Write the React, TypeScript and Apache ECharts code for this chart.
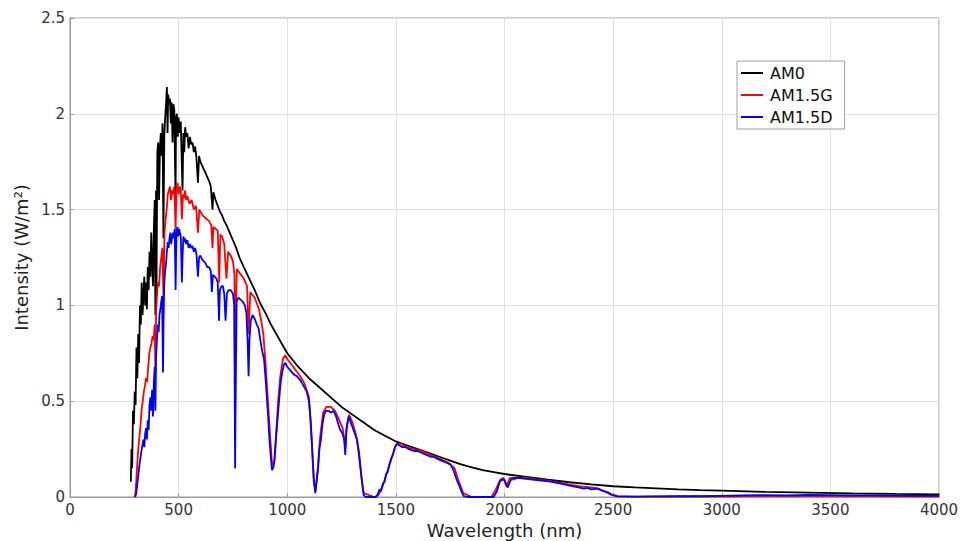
import React, { useEffect, useRef } from "react";
import * as echarts from "echarts";

// Solar spectral irradiance, [wavelength (nm), intensity (W/m^2 per nm)]
const am0: [number, number][] = [
  [280, 0.08], [283, 0.25], [286, 0.15], [290, 0.45], [294, 0.38], [298, 0.55], [302, 0.48], [306, 0.78],
  [310, 0.62], [314, 0.85], [318, 0.7], [322, 1.0], [326, 0.9], [330, 1.12], [334, 0.95], [338, 1.05],
  [342, 1.15], [346, 1.0], [350, 1.12], [354, 0.98], [358, 1.2], [362, 1.08], [366, 1.28], [370, 1.15],
  [374, 1.38], [378, 1.22], [382, 1.1], [386, 1.4], [390, 1.55], [393, 0.95], [396, 1.6], [398, 1.05],
  [402, 1.8], [406, 1.85], [410, 1.55], [414, 1.82], [418, 1.9], [422, 1.78], [426, 1.95], [430, 1.35],
  [434, 1.88], [438, 1.98], [442, 2.05], [446, 2.14], [449, 1.9], [452, 2.1], [456, 2.05], [460, 2.08],
  [464, 1.95], [468, 2.06], [472, 1.85], [476, 2.05], [480, 2.02], [484, 1.7], [486, 1.55], [488, 1.98],
  [492, 2.0], [496, 1.88], [500, 1.98], [505, 1.9], [510, 1.96], [515, 1.72], [518, 1.6], [522, 1.9],
  [526, 1.8], [530, 1.93], [535, 1.88], [540, 1.9], [546, 1.82], [552, 1.88], [558, 1.84], [564, 1.85],
  [570, 1.8], [576, 1.83], [582, 1.77], [589, 1.64], [594, 1.78], [600, 1.75], [608, 1.73], [616, 1.71],
  [624, 1.69], [632, 1.67], [640, 1.65], [648, 1.62], [656, 1.5], [660, 1.59], [670, 1.55], [680, 1.52],
  [690, 1.49], [700, 1.47], [710, 1.44], [720, 1.42], [735, 1.38], [750, 1.34], [765, 1.3], [780, 1.25],
  [800, 1.2], [825, 1.14], [850, 1.08], [876, 1.01], [900, 0.96], [925, 0.9], [950, 0.85], [975, 0.8],
  [1000, 0.75], [1050, 0.68], [1100, 0.62], [1150, 0.57], [1200, 0.52], [1250, 0.47], [1300, 0.43],
  [1350, 0.39], [1400, 0.35], [1450, 0.32], [1500, 0.29], [1550, 0.27], [1600, 0.25], [1650, 0.23],
  [1700, 0.21], [1750, 0.19], [1800, 0.17], [1850, 0.155], [1900, 0.14], [1950, 0.13], [2000, 0.12],
  [2100, 0.105], [2200, 0.09], [2300, 0.077], [2400, 0.066], [2500, 0.056], [2600, 0.05], [2700, 0.045],
  [2800, 0.04], [2900, 0.036], [3000, 0.033], [3200, 0.027], [3400, 0.023], [3600, 0.019], [3800, 0.016],
  [4000, 0.014],
];

const am15g: [number, number][] = [
  [295, 0], [300, 0.01], [305, 0.08], [310, 0.18], [315, 0.26], [320, 0.32], [325, 0.38], [330, 0.46],
  [335, 0.5], [340, 0.55], [345, 0.58], [350, 0.62], [355, 0.6], [360, 0.68], [365, 0.75], [370, 0.78],
  [375, 0.8], [380, 0.84], [385, 0.82], [390, 0.9], [393, 0.65], [396, 0.95], [400, 1.05], [405, 1.12],
  [410, 1.1], [415, 1.2], [420, 1.25], [425, 1.3], [430, 1.05], [435, 1.38], [440, 1.45], [445, 1.5],
  [450, 1.58], [455, 1.6], [460, 1.62], [465, 1.55], [470, 1.6], [475, 1.58], [480, 1.62], [486, 1.4],
  [490, 1.6], [495, 1.64], [500, 1.58], [505, 1.62], [510, 1.6], [515, 1.45], [520, 1.58], [525, 1.56],
  [530, 1.6], [535, 1.55], [540, 1.57], [550, 1.53], [560, 1.55], [570, 1.5], [580, 1.52], [589, 1.38],
  [595, 1.5], [600, 1.49], [610, 1.47], [620, 1.46], [630, 1.45], [640, 1.44], [650, 1.42], [656, 1.3],
  [660, 1.41], [670, 1.4], [680, 1.39], [687, 1.12], [692, 1.37], [700, 1.36], [710, 1.32], [720, 1.14],
  [728, 1.28], [740, 1.26], [750, 1.23], [757, 1.16], [760, 0.4], [763, 0.95], [768, 1.19], [780, 1.17],
  [800, 1.14], [815, 1.1], [822, 0.85], [830, 1.07], [850, 1.04], [870, 0.98], [880, 0.92], [890, 0.85],
  [900, 0.7], [910, 0.52], [920, 0.34], [930, 0.17], [940, 0.18], [948, 0.32], [958, 0.5], [968, 0.63],
  [980, 0.72], [990, 0.74], [1000, 0.72], [1020, 0.69], [1040, 0.66], [1060, 0.63], [1080, 0.59],
  [1100, 0.52], [1112, 0.3], [1122, 0.08], [1130, 0.03], [1140, 0.14], [1150, 0.3], [1165, 0.44],
  [1180, 0.47], [1200, 0.47], [1220, 0.45], [1240, 0.4], [1255, 0.36], [1268, 0.26], [1275, 0.38],
  [1285, 0.43], [1300, 0.39], [1315, 0.33], [1330, 0.24], [1342, 0.1], [1352, 0.02], [1400, 0],
  [1420, 0.01], [1440, 0.06], [1460, 0.13], [1480, 0.2], [1500, 0.27], [1520, 0.28], [1550, 0.26],
  [1580, 0.25], [1620, 0.24], [1660, 0.22], [1700, 0.2], [1740, 0.18], [1770, 0.15], [1790, 0.08],
  [1810, 0.02], [1850, 0], [1940, 0], [1960, 0.04], [1980, 0.09], [1995, 0.1], [2010, 0.06], [2025, 0.1],
  [2040, 0.09], [2060, 0.1], [2100, 0.1], [2150, 0.09], [2200, 0.085], [2250, 0.075], [2300, 0.065],
  [2350, 0.055], [2400, 0.05], [2430, 0.045], [2460, 0.03], [2490, 0.012], [2520, 0.004], [2600, 0.002],
  [3000, 0.004], [3500, 0.005], [4000, 0.004],
];

const am15d: [number, number][] = [
  [300, 0], [305, 0.02], [310, 0.07], [315, 0.12], [320, 0.17], [325, 0.21], [330, 0.25], [335, 0.28],
  [338, 0.3], [342, 0.26], [346, 0.33], [350, 0.36], [354, 0.3], [358, 0.4], [362, 0.35], [366, 0.48],
  [370, 0.52], [374, 0.45], [378, 0.56], [382, 0.42], [386, 0.6], [390, 0.68], [393, 0.45], [396, 0.72],
  [400, 0.82], [404, 0.9], [408, 0.86], [412, 0.95], [416, 0.98], [420, 1.02], [424, 1.05], [428, 0.65],
  [431, 0.95], [434, 1.12], [438, 1.18], [442, 1.22], [446, 1.28], [450, 1.33], [454, 1.3], [458, 1.35],
  [462, 1.38], [466, 1.32], [470, 1.36], [474, 1.38], [478, 1.35], [482, 1.4], [486, 1.08], [490, 1.38],
  [494, 1.41], [498, 1.36], [502, 1.4], [506, 1.38], [510, 1.36], [515, 1.12], [518, 1.25], [522, 1.36],
  [526, 1.33], [530, 1.35], [535, 1.32], [540, 1.34], [546, 1.3], [552, 1.32], [558, 1.3], [564, 1.31],
  [570, 1.28], [576, 1.3], [582, 1.27], [589, 1.15], [594, 1.25], [600, 1.26], [608, 1.24], [616, 1.23],
  [624, 1.22], [632, 1.2], [640, 1.2], [648, 1.18], [653, 1.07], [658, 1.16], [666, 1.15], [674, 1.14],
  [680, 1.12], [686, 0.92], [690, 1.08], [697, 1.1], [704, 1.1], [710, 1.06], [716, 0.92], [722, 1.06],
  [730, 1.08], [740, 1.08], [750, 1.06], [756, 1.0], [760, 0.15], [763, 0.6], [767, 1.02], [775, 1.04],
  [785, 1.03], [795, 1.02], [805, 1.0], [812, 0.96], [818, 0.8], [822, 0.63], [826, 0.82], [832, 0.92],
  [840, 0.95], [850, 0.93], [860, 0.9], [868, 0.88], [876, 0.82], [885, 0.76], [893, 0.72], [900, 0.62],
  [906, 0.52], [912, 0.42], [918, 0.3], [925, 0.2], [930, 0.14], [937, 0.16], [942, 0.2], [948, 0.3],
  [955, 0.4], [962, 0.5], [970, 0.6], [978, 0.66], [985, 0.69], [991, 0.7], [1000, 0.68], [1015, 0.66],
  [1030, 0.64], [1045, 0.63], [1060, 0.61], [1075, 0.58], [1090, 0.55], [1100, 0.5], [1108, 0.4],
  [1115, 0.25], [1122, 0.1], [1129, 0.02], [1135, 0.08], [1142, 0.15], [1148, 0.25], [1155, 0.3],
  [1162, 0.38], [1170, 0.43], [1178, 0.45], [1190, 0.45], [1200, 0.44], [1213, 0.45], [1225, 0.42],
  [1235, 0.38], [1244, 0.35], [1255, 0.33], [1262, 0.3], [1267, 0.22], [1272, 0.35], [1283, 0.42],
  [1295, 0.38], [1305, 0.35], [1315, 0.32], [1321, 0.3], [1330, 0.22], [1340, 0.12], [1348, 0.04],
  [1352, 0.01], [1360, 0], [1410, 0], [1418, 0.02], [1425, 0.04], [1432, 0.03], [1440, 0.07], [1448, 0.08],
  [1455, 0.12], [1462, 0.13], [1470, 0.17], [1478, 0.2], [1486, 0.22], [1495, 0.26], [1505, 0.28],
  [1515, 0.27], [1530, 0.26], [1545, 0.26], [1560, 0.25], [1582, 0.24], [1600, 0.24], [1620, 0.23],
  [1640, 0.22], [1660, 0.21], [1674, 0.21], [1690, 0.2], [1710, 0.19], [1730, 0.18], [1751, 0.17],
  [1765, 0.14], [1780, 0.09], [1795, 0.05], [1805, 0.02], [1812, 0.005], [1830, 0], [1950, 0], [1965, 0.03],
  [1978, 0.08], [1989, 0.09], [2000, 0.09], [2008, 0.06], [2015, 0.05], [2025, 0.08], [2036, 0.1],
  [2050, 0.1], [2060, 0.1], [2100, 0.095], [2150, 0.088], [2212, 0.08], [2260, 0.07], [2300, 0.06],
  [2340, 0.05], [2366, 0.044], [2380, 0.048], [2400, 0.04], [2427, 0.044], [2445, 0.035], [2473, 0.026],
  [2490, 0.015], [2504, 0.008], [2520, 0.003], [2600, 0.002], [2700, 0.003], [2800, 0.004], [2900, 0.004],
  [3000, 0.006], [3100, 0.008], [3200, 0.01], [3300, 0.009], [3400, 0.011], [3500, 0.01], [3600, 0.009],
  [3700, 0.008], [3800, 0.007], [3900, 0.006], [4000, 0.006],
];

const seriesNames = ["AM0", "AM1.5G", "AM1.5D"];
const seriesColors = ["#000000", "#ff0000", "#0000ff"];

const FONT = "'DejaVu Sans', 'Liberation Sans', Arial, sans-serif";

export default function App() {
  const ref = useRef<HTMLDivElement>(null);

  useEffect(() => {
    document.body.style.margin = "0";
    const chart = echarts.init(ref.current!, null, { renderer: "svg" });
    const datasets = [am0, am15g, am15d];
    chart.setOption({
      animation: false,
      backgroundColor: "#ffffff",
      textStyle: { fontFamily: FONT },
      grid: {
        left: 70,
        right: 23,
        top: 18,
        bottom: 44,
        outerBoundsMode: "none",
        show: true,
        borderColor: "#9a9a9a",
        borderWidth: 1,
        backgroundColor: "transparent",
      },
      legend: {
        orient: "vertical",
        left: 737,
        top: 61,
        padding: [4, 12, 4, 4],
        itemGap: 6,
        itemWidth: 22,
        itemHeight: 2,
        icon: "rect",
        backgroundColor: "#ffffff",
        borderColor: "#a0a0a0",
        borderWidth: 1,
        textStyle: { fontSize: 16, lineHeight: 16, color: "#111", fontFamily: FONT, padding: [0, 0, 0, 2] },
        data: seriesNames,
      },
      xAxis: {
        type: "value",
        min: 0,
        max: 4000,
        interval: 500,
        name: "Wavelength (nm)",
        nameLocation: "middle",
        nameGap: 20,
        nameTextStyle: { fontSize: 18, color: "#222", fontFamily: FONT },
        axisLine: { show: true, lineStyle: { color: "#9a9a9a" } },
        axisTick: { show: true, inside: true, length: 4, lineStyle: { color: "#9a9a9a" } },
        axisLabel: {
          fontSize: 15,
          color: "#333",
          margin: 5,
          fontFamily: FONT,
          formatter: (v: number) => String(v),
        },
        splitLine: { show: true, lineStyle: { color: "#e2e2e2", width: 1 } },
      },
      yAxis: {
        type: "value",
        min: 0,
        max: 2.5,
        interval: 0.5,
        name: "Intensity (W/m²)",
        nameLocation: "middle",
        nameGap: 39,
        nameTextStyle: { fontSize: 18, color: "#222", fontFamily: FONT },
        axisLine: { show: true, lineStyle: { color: "#9a9a9a" } },
        axisTick: { show: true, inside: true, length: 4, lineStyle: { color: "#9a9a9a" } },
        axisLabel: { fontSize: 15, color: "#333", margin: 5, fontFamily: FONT },
        splitLine: { show: true, lineStyle: { color: "#e2e2e2", width: 1 } },
      },
      series: datasets.map((d, i) => ({
        name: seriesNames[i],
        type: "line",
        data: d,
        showSymbol: false,
        symbol: "none",
        color: seriesColors[i],
        lineStyle: { color: seriesColors[i], width: 1.8 },
        z: 2 + i,
      })),
    });
    return () => chart.dispose();
  }, []);

  return (
    <div
      ref={ref}
      style={{ position: "fixed", left: 0, top: 0, width: 962, height: 541, background: "#fff" }}
    />
  );
}
